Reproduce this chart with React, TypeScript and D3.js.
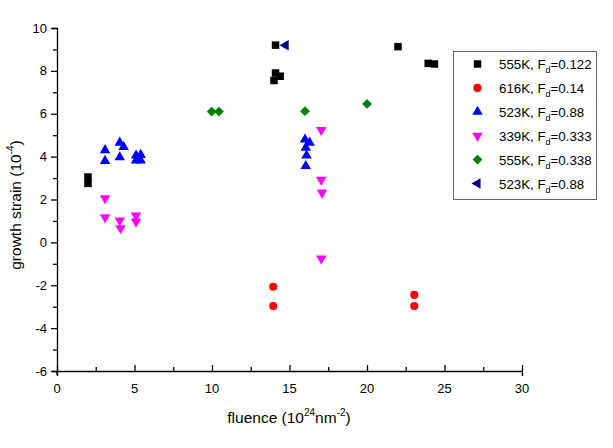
import React, { useEffect, useRef } from 'react';
import * as d3 from 'd3';

// growth strain vs fluence, one array of [fluence, strain] per series
const s555a: [number, number][] = [
  [2, 2.75], [2, 3.05], [14.1, 9.2], [14.1, 7.9], [14.4, 7.75], [14, 7.55],
  [22, 9.13], [23.95, 8.35], [24.35, 8.32],
];
const s616: [number, number][] = [
  [13.95, -2.07], [13.95, -2.97], [23.05, -2.45], [23.05, -2.97],
];
const s523: [number, number][] = [
  [3.1, 4.3], [3.1, 3.8], [4.05, 4.65], [4.3, 4.45], [4.05, 3.97],
  [5.1, 4.05], [5.4, 4.08], [5.1, 3.82], [5.4, 3.82],
  [16, 4.8], [16.3, 4.65], [16.05, 4.42], [16.1, 4.05], [16.05, 3.56],
];
const s339: [number, number][] = [
  [3.1, 2.06], [3.1, 1.17], [4.05, 1.02], [4.1, 0.66], [5.1, 1.25], [5.1, 0.97],
  [17.05, 5.24], [17.05, 2.92], [17.1, 2.32], [17.05, -0.75],
];
const s555b: [number, number][] = [
  [9.98, 6.1], [10.45, 6.1], [16, 6.12], [20, 6.46],
];
const s523b: [number, number][] = [[14.75, 9.2]];

const seriesNames = ['555K', '616K', '523K', '339K', '555K', '523K'];
const seriesFd = ['0.122', '0.14', '0.88', '0.333', '0.338', '0.88'];
const xTicks = [0, 5, 10, 15, 20, 25, 30];
const yTicks = [-6, -4, -2, 0, 2, 4, 6, 8, 10];

const markers = [
  { type: d3.symbolSquare, size: 56, rotate: 0, color: '#000000' },
  { type: d3.symbolCircle, size: 52, rotate: 0, color: '#ff0000' },
  { type: d3.symbolTriangle, size: 48, rotate: 0, color: '#0000ff' },
  { type: d3.symbolTriangle, size: 48, rotate: 180, color: '#ff00ff' },
  { type: d3.symbolSquare, size: 48, rotate: 45, color: '#008000' },
  { type: d3.symbolTriangle, size: 48, rotate: -90, color: '#000080' },
];

const App = () => {
  const svgRef = useRef(null);

  useEffect(() => {
    const svg = d3.select(svgRef.current);
    svg.selectAll('*').remove();

    const font = 'Liberation Sans, Arial, sans-serif';
    const x = d3.scaleLinear().domain([0, 30]).range([57, 522]);
    const y = d3.scaleLinear().domain([-6, 10]).range([371, 28]);

    // bottom axis, ticks pointing into the plot
    const xAxis = svg.append('g').attr('transform', 'translate(0,371)');
    xAxis.call(
      d3.axisBottom(x).tickValues(d3.range(0, 30.01, 2.5)).tickSize(5).tickFormat(() => '')
    );
    xAxis.selectAll('.tick line').attr('y2', (d: any) => (d % 5 === 0 ? -6 : -4));
    xAxis.append('g').selectAll('text')
      .data(xTicks)
      .enter().append('text')
      .attr('x', d => x(d))
      .attr('y', 22)
      .attr('text-anchor', 'middle')
      .attr('fill', '#000')
      .style('font', `13px ${font}`)
      .text(d => d);

    // left axis, ticks pointing out
    const yAxis = svg.append('g').attr('transform', 'translate(57,0)');
    yAxis.call(
      d3.axisLeft(y).tickValues(d3.range(-6, 10.01, 1)).tickSize(5).tickFormat(() => '')
    );
    yAxis.selectAll('.tick line').attr('x2', (d: any) => (d % 2 === 0 ? -6 : -4));
    yAxis.append('g').selectAll('text')
      .data(yTicks)
      .enter().append('text')
      .attr('x', -10)
      .attr('y', d => y(d) + 4.5)
      .attr('text-anchor', 'end')
      .attr('fill', '#000')
      .style('font', `13px ${font}`)
      .text(d => d);
    // small stub of the y axis below the origin
    yAxis.append('line')
      .attr('x1', 0).attr('x2', 0)
      .attr('y1', 371).attr('y2', 375)
      .attr('stroke', '#000').attr('stroke-width', 1.3);

    svg.selectAll('.domain').attr('stroke', '#000').attr('stroke-width', 1.3);
    svg.selectAll('.tick line').attr('stroke', '#000').attr('stroke-width', 1.3);

    // axis titles
    const xt = svg.append('text')
      .attr('x', 289).attr('y', 423)
      .attr('text-anchor', 'middle')
      .style('font', `15.5px ${font}`);
    xt.append('tspan').text('fluence (10');
    xt.append('tspan').attr('dy', -7).style('font-size', '10px').text('24');
    xt.append('tspan').attr('dy', 7).text('nm');
    xt.append('tspan').attr('dy', -7).style('font-size', '10px').text('-2');
    xt.append('tspan').attr('dy', 7).text(')');

    const yt = svg.append('text')
      .attr('transform', 'translate(21,205) rotate(-90)')
      .attr('text-anchor', 'middle')
      .style('font', `15.5px ${font}`);
    yt.append('tspan').text('growth strain (10');
    yt.append('tspan').attr('dy', -7).style('font-size', '10px').text('-4');
    yt.append('tspan').attr('dy', 7).text(')');

    // points
    const allSeries = [s555a, s616, s523, s339, s555b, s523b];
    allSeries.forEach((pts, i) => {
      const m = markers[i];
      const path = d3.symbol().type(m.type).size(m.size)();
      svg.append('g').selectAll('path')
        .data(pts)
        .enter().append('path')
        .attr('d', path)
        .attr('transform', d => `translate(${x(d[0])},${y(d[1])}) rotate(${m.rotate})`)
        .attr('fill', m.color);
    });

    // legend
    const legend = svg.append('g');
    legend.append('rect')
      .attr('x', 453.5).attr('y', 51.5)
      .attr('width', 143).attr('height', 148)
      .attr('fill', '#fff')
      .attr('stroke', '#666')
      .attr('stroke-width', 1);
    seriesNames.forEach((name, i) => {
      const m = markers[i];
      const ly = 64 + i * 23.9;
      legend.append('path')
        .attr('d', d3.symbol().type(m.type).size(m.size)())
        .attr('transform', `translate(477.5,${ly}) rotate(${m.rotate})`)
        .attr('fill', m.color);
      const t = legend.append('text')
        .attr('x', 499).attr('y', ly + 5)
        .style('font', `13.3px ${font}`);
      t.append('tspan').text(`${name}, F`);
      t.append('tspan').attr('dy', 4).style('font-size', '9px').text('d');
      t.append('tspan').attr('dy', -4).text(`=${seriesFd[i]}`);
    });
  }, []);

  return (
    <div style={{ position: 'absolute', left: 0, top: 0 }}>
      <svg ref={svgRef} width="613" height="448" style={{ display: 'block', background: '#fff' }}></svg>
    </div>
  );
};

export default App;
